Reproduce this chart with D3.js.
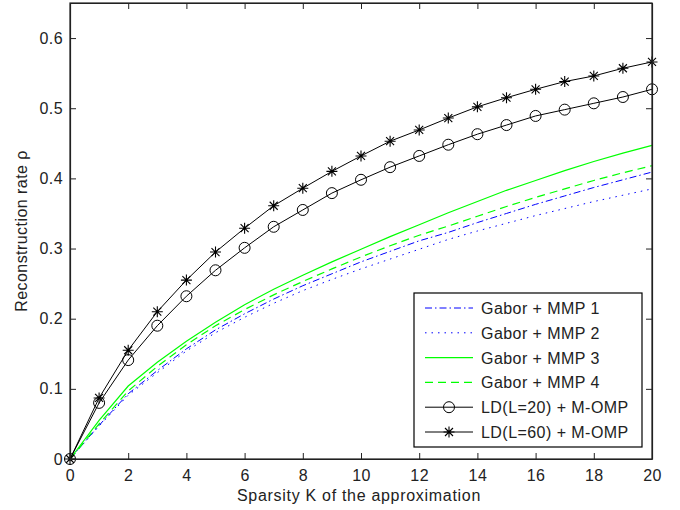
<!DOCTYPE html>
<html><head><meta charset="utf-8">
<script src="https://cdn.jsdelivr.net/npm/d3@7"></script>
<style>
html,body{margin:0;padding:0;background:#fff;}
svg text{font-family:"Liberation Sans",Arial,sans-serif;font-size:16px;fill:#222;letter-spacing:0.45px;}
</style></head>
<body><svg id="c" width="680" height="510"></svg>
<script>
const K = d3.range(0, 21);
const mmp1 = [0,.048,.093,.126,.157,.184,.207,.228,.247,.264,.281,.296,.311,.323,.337,.350,.363,.375,.387,.398,.409];
const mmp2 = [0,.047,.091,.123,.154,.180,.202,.222,.240,.256,.271,.285,.299,.313,.325,.336,.347,.357,.367,.376,.385];
const mmp3 = [0,.055,.104,.138,.168,.195,.220,.242,.262,.281,.299,.317,.334,.351,.367,.383,.397,.411,.424,.436,.447];
const mmp4 = [0,.050,.097,.132,.163,.190,.213,.234,.253,.271,.288,.304,.319,.332,.346,.360,.373,.385,.397,.408,.418];
const ld20 = [0,.080,.141,.190,.232,.269,.301,.331,.355,.379,.398,.416,.432,.448,.463,.476,.489,.498,.507,.516,.527];
const ld60 = [0,.087,.155,.210,.255,.295,.329,.361,.386,.410,.432,.453,.469,.486,.502,.515,.527,.538,.546,.557,.566];
const xTicks = d3.range(0, 21, 2);
const yTicks = [0, 0.1, 0.2, 0.3, 0.4, 0.5, 0.6];
const labels = ["Gabor + MMP 1","Gabor + MMP 2","Gabor + MMP 3","Gabor + MMP 4","LD(L=20) + M-OMP","LD(L=60) + M-OMP"];

const series = [
  {name: labels[0], v: mmp1, color: "#0000ff", dash: "7,3,1.5,3", marker: null},
  {name: labels[1], v: mmp2, color: "#0000ff", dash: "1.5,5", marker: null},
  {name: labels[2], v: mmp3, color: "#00ff00", dash: null, marker: null},
  {name: labels[3], v: mmp4, color: "#00ff00", dash: "8,5", marker: null},
  {name: labels[4], v: ld20, color: "#000000", dash: null, marker: "o"},
  {name: labels[5], v: ld60, color: "#000000", dash: null, marker: "*"}
];

const L = 70, R = 652, T = 3, B = 459;
const x = d3.scaleLinear().domain([0, 20]).range([L, R]);
const y = d3.scaleLinear().domain([0, 0.65]).range([B, T]);
const svg = d3.select("#c");

const gp = svg.append("g");
const line = d3.line().x((d,i)=>x(K[i])).y(d=>y(d));

function drawMarker(g, type, cx, cy, color) {
  if (type === "o") {
    g.append("circle").attr("cx", cx).attr("cy", cy).attr("r", 5.5)
      .attr("fill", "none").attr("stroke", color).attr("stroke-width", 1);
  } else if (type === "*") {
    const s = 5.5, d = 4;
    const p = `M${cx-s},${cy}L${cx+s},${cy}M${cx},${cy-s}L${cx},${cy+s}M${cx-d},${cy-d}L${cx+d},${cy+d}M${cx-d},${cy+d}L${cx+d},${cy-d}`;
    g.append("path").attr("d", p).attr("stroke", color).attr("stroke-width", 1.1).attr("fill", "none");
  }
}

series.forEach(s => {
  gp.append("path").attr("d", line(s.v)).attr("fill", "none")
    .attr("stroke", s.color).attr("stroke-width", s.color === "#00ff00" ? 1.2 : 1)
    .attr("stroke-dasharray", s.dash);
  if (s.marker) {
    s.v.forEach((v,i) => drawMarker(gp, s.marker, x(K[i]), y(v), s.color));
  }
});

// axes box
const axColor = "#222";
const xb = svg.append("g").attr("transform", `translate(0,${B})`)
  .call(d3.axisBottom(x).tickValues(xTicks).tickFormat(d3.format("d")).tickSizeInner(-6).tickSizeOuter(0).tickPadding(11));
const xt = svg.append("g").attr("transform", `translate(0,${T})`)
  .call(d3.axisTop(x).tickValues(xTicks).tickFormat("").tickSizeInner(-6).tickSizeOuter(0));
const yl = svg.append("g").attr("transform", `translate(${L},0)`)
  .call(d3.axisLeft(y).tickValues(yTicks).tickFormat(d => d === 0 ? "0" : d3.format(".1f")(d)).tickSizeInner(-6).tickSizeOuter(0).tickPadding(7));
const yr = svg.append("g").attr("transform", `translate(${R},0)`)
  .call(d3.axisRight(y).tickValues(yTicks).tickFormat("").tickSizeInner(-6).tickSizeOuter(0));
[xb, xt, yl, yr].forEach(g => {
  g.selectAll("path.domain").attr("stroke", axColor).attr("stroke-width", 1.2);
  g.selectAll("line").attr("stroke", axColor).attr("stroke-width", 1);
  g.selectAll("text").attr("font-size", 16).attr("font-family", "Liberation Sans, Arial, sans-serif").attr("fill", "#222");
});
svg.append("rect").attr("x", L).attr("y", T).attr("width", R-L).attr("height", B-T)
  .attr("fill", "none").attr("stroke", axColor).attr("stroke-width", 1.2);

// axis labels
svg.append("text").attr("x", (L+R)/2 - 2).attr("y", 501).attr("text-anchor", "middle")
  .style("letter-spacing", "0.7px")
  .text("Sparsity K of the approximation");
svg.append("text").attr("transform", `translate(27,${(T+B)/2}) rotate(-90)`).attr("text-anchor", "middle")
  .text("Reconstruction rate ρ");

// legend
const lg = svg.append("g");
const lx0 = 414, ly0 = 293, lw = 228, lh = 154;
lg.append("rect").attr("x", lx0).attr("y", ly0).attr("width", lw).attr("height", lh)
  .attr("fill", "#fff").attr("stroke", "#000").attr("stroke-width", 1.2);
series.forEach((s, i) => {
  const cy = 308 + i * 24.8;
  lg.append("line").attr("x1", 425).attr("x2", 473).attr("y1", cy).attr("y2", cy)
    .attr("stroke", s.color).attr("stroke-width", s.color === "#00ff00" ? 1.2 : 1).attr("stroke-dasharray", s.dash);
  if (s.marker) drawMarker(lg, s.marker, 449, cy, s.color);
  lg.append("text").attr("x", 481).attr("y", cy + 6).text(s.name);
});
</script></body></html>
